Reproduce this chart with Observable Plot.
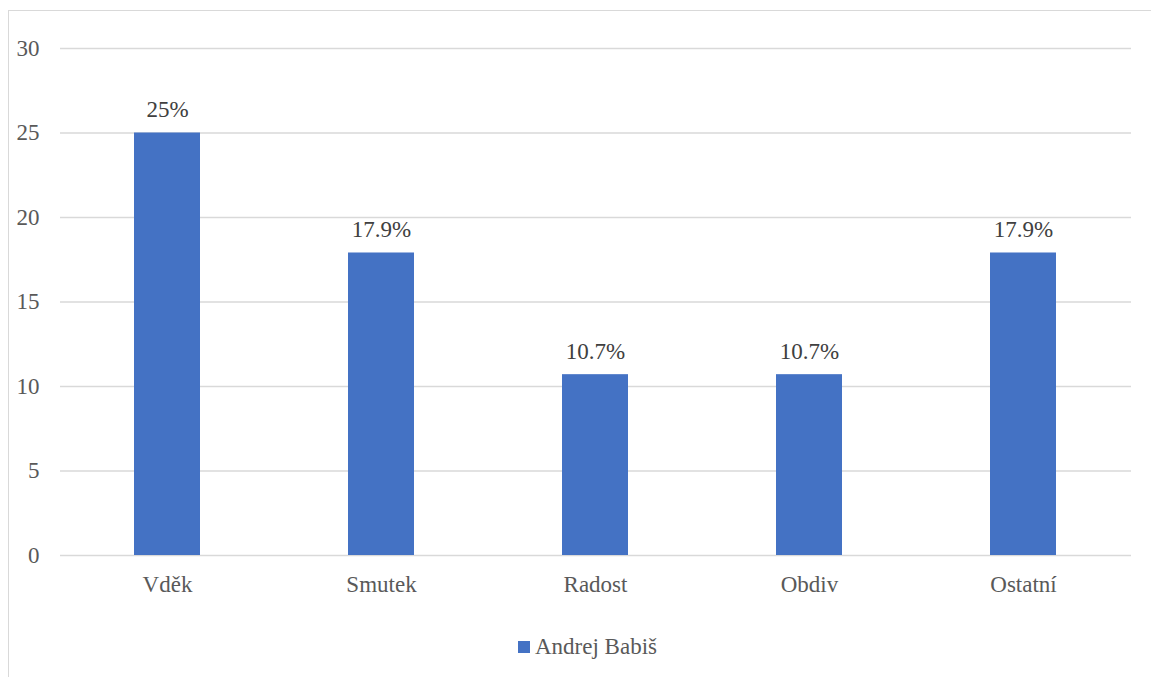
<!DOCTYPE html>
<html>
<head>
<meta charset="utf-8">
<script src="https://cdn.jsdelivr.net/npm/d3@7"></script>
<script src="https://cdn.jsdelivr.net/npm/@observablehq/plot@0.6"></script>
<style>
  html, body { margin: 0; padding: 0; background: #fff; width: 1151px; height: 677px; overflow: hidden; }
  #frame { position: absolute; left: 8px; top: 10px; width: 1200px; height: 720px; border: 1.5px solid #d9d9d9; box-sizing: border-box; }
  #chart { position: absolute; left: 0; top: 0; }
  #chart svg, #chart svg text { font-family: "Liberation Serif", "Times New Roman", serif !important; }
  #legend { position: absolute; left: 518px; top: 634px; font-family: "Liberation Serif", "Times New Roman", serif; font-size: 23px; line-height: 26px; color: #595959; display: flex; align-items: center; }
  #legend .sw { width: 12px; height: 12px; background: #4472C4; margin-right: 5px; }
</style>
</head>
<body>
<div id="frame"></div>
<div id="chart"></div>
<div id="legend"><span class="sw"></span><span id="legtext"></span></div>
<script>
const categories = ["Vděk", "Smutek", "Radost", "Obdiv", "Ostatní"];
const values = [25, 17.9, 10.7, 10.7, 17.9];
const labels = ["25%", "17.9%", "10.7%", "10.7%", "17.9%"];
const yTicks = [0, 5, 10, 15, 20, 25, 30];
const seriesName = "Andrej Babiš";

const data = categories.map((c, i) => ({ cat: c, value: values[i], label: labels[i] }));

const chart = Plot.plot({
  width: 1151,
  height: 600,
  marginLeft: 60,
  marginRight: 20,
  marginTop: 48,
  marginBottom: 45,
  style: { fontFamily: "Liberation Serif", fontSize: "23px", color: "#595959", background: "transparent" },
  x: { domain: categories, paddingInner: 0.69, paddingOuter: 0.345, label: null, tickSize: 0, tickPadding: 20 },
  y: { domain: [0, 30], ticks: yTicks, label: null, tickSize: 0, tickPadding: 21 },
  marks: [
    Plot.gridY(yTicks, { stroke: "#d9d9d9", strokeOpacity: 1, strokeWidth: 1.3 }),
    Plot.barY(data, { x: "cat", y: "value", fill: "#4472C4" }),
    Plot.text(data, { x: "cat", y: "value", text: "label", lineAnchor: "middle", dy: -23, fill: "#404040", fontSize: 23 }),
    Plot.axisX({ tickSize: 0, tickPadding: 20, fontSize: 23, fill: "#595959" }),
    Plot.axisY(yTicks, { tickSize: 0, tickPadding: 21, fontSize: 23, fill: "#595959" })
  ]
});
document.getElementById("chart").appendChild(chart);
document.getElementById("legtext").textContent = seriesName;
</script>
</body>
</html>
